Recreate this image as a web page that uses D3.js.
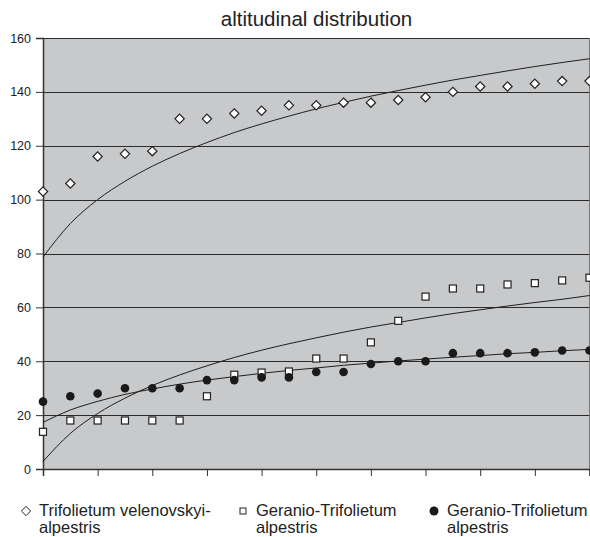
<!DOCTYPE html>
<html>
<head>
<meta charset="utf-8">
<script src="https://cdn.jsdelivr.net/npm/d3@7"></script>
<style>
  body { margin: 0; background: #fff; }
  text { font-family: "Liberation Sans", Arial, sans-serif; fill: #222; }
</style>
</head>
<body>
<div id="chart-area"></div>
<script>
// plot positions (1..21), no labels on the x axis
const positions = [1,2,3,4,5,6,7,8,9,10,11,12,13,14,15,16,17,18,19,20,21];
const xTicks = [1,3,5,7,9,11,13,15,17,19,21];
const yTicks = [0,20,40,60,80,100,120,140,160];

// series
const velenovskyi = [103,106,116,117,118,130,130,132,133,135,135,136,136,137,138,140,142,142,143,144,144];
const geranioSquare = [13.8,18,18,18,18,18,27,35,35.8,36.2,41,41,47,55,64,67,67,68.5,69,70,71];
const geranioDot = [25,27,28,30,30,30,33,33,34,34,36,36,39,40,40,43,43,43,43.3,44,44];

// trend lines
const trendVelenovskyi = [78.7,91.1,100,106.8,112.4,117.1,121.2,124.9,128.1,131,133.7,136.1,138.4,140.5,142.5,144.4,146.1,147.8,149.4,150.9,152.3];
const trendSquare = [2.8,13.2,20.6,26.3,31,34.9,38.3,41.4,44.1,46.5,48.7,50.8,52.7,54.4,56.1,57.7,59.1,60.5,61.8,63,64.4];
const trendDot = [17.3,21.9,25.1,27.7,29.7,31.5,33,34.3,35.5,36.6,37.5,38.5,39.3,40.1,40.8,41.5,42.1,42.8,43.3,43.9,44.4];

const legendNames = [
  ["Trifolietum velenovskyi-", "alpestris"],
  ["Geranio-Trifolietum", "alpestris"],
  ["Geranio-Trifolietum", "alpestris"]
];

const W = 590, H = 537;
const margin = {top: 38, right: 0, bottom: 68, left: 43};
const width = W - margin.left - margin.right,
      height = H - margin.top - margin.bottom;

const svg = d3.select("#chart-area")
  .append("svg")
    .attr("width", W)
    .attr("height", H);

const g = svg.append("g")
    .attr("transform", `translate(${margin.left}, ${margin.top})`);

const x = d3.scaleLinear().domain([1, 21]).range([0, width - 0.5]);
const y = d3.scaleLinear().domain([0, 160]).range([height, 0]);

// plot background
g.append("rect")
  .attr("width", width)
  .attr("height", height)
  .attr("fill", "#c8c9cb");

// gridlines
g.append("g")
  .selectAll("line")
  .data(yTicks.filter(d => d > 0))
  .join("line")
    .attr("x1", 0)
    .attr("x2", width)
    .attr("y1", d => Math.round(y(d)) + 0.5)
    .attr("y2", d => Math.round(y(d)) + 0.5)
    .attr("stroke", "#2b2b2b")
    .attr("stroke-width", 1);

// right border
g.append("line")
  .attr("x1", width - 0.5).attr("x2", width - 0.5)
  .attr("y1", 0).attr("y2", height)
  .attr("stroke", "#777");

// Y axis
const yAxis = g.append("g")
  .call(d3.axisLeft(y).tickValues(yTicks).tickSize(7).tickPadding(5));
yAxis.select(".domain").attr("stroke", "#333").attr("stroke-width", 1.5);
yAxis.selectAll(".tick line").attr("stroke", "#333");
yAxis.selectAll("text")
  .style("font-family", "'Liberation Sans', Arial, sans-serif")
  .style("font-size", "12.5px")
  .attr("fill", "#222");

// X axis
const xAxis = g.append("g")
  .attr("transform", `translate(0, ${height})`)
  .call(d3.axisBottom(x).tickValues(xTicks).tickSize(7).tickFormat(""));
xAxis.select(".domain").attr("stroke", "#333").attr("stroke-width", 1.5);
xAxis.selectAll(".tick line").attr("stroke", "#333");

// trend lines
const line = d3.line()
  .x((d, i) => x(positions[i]))
  .y(d => y(d))
  .curve(d3.curveMonotoneX);

[trendVelenovskyi, trendSquare, trendDot].forEach(t => {
  g.append("path")
    .datum(t)
    .attr("d", line)
    .attr("fill", "none")
    .attr("stroke", "#1e1e1e")
    .attr("stroke-width", 1);
});

// markers
const diamond = d3.symbol().type(d3.symbolDiamond2).size(55);
g.selectAll(".dia")
  .data(velenovskyi)
  .join("path")
    .attr("class", "dia")
    .attr("transform", (d, i) => `translate(${x(positions[i])}, ${y(d)})`)
    .attr("d", diamond)
    .attr("fill", "#fff")
    .attr("stroke", "#222")
    .attr("stroke-width", 1.2);

g.selectAll(".sq")
  .data(geranioSquare)
  .join("rect")
    .attr("class", "sq")
    .attr("x", (d, i) => x(positions[i]) - 3.5)
    .attr("y", d => y(d) - 3.5)
    .attr("width", 7)
    .attr("height", 7)
    .attr("fill", "#fff")
    .attr("stroke", "#222")
    .attr("stroke-width", 1.2);

g.selectAll(".dot")
  .data(geranioDot)
  .join("circle")
    .attr("class", "dot")
    .attr("cx", (d, i) => x(positions[i]))
    .attr("cy", d => y(d))
    .attr("r", 4.3)
    .attr("fill", "#1a1a1a");

// title
svg.append("text")
  .attr("x", margin.left + width / 2)
  .attr("y", 26)
  .attr("text-anchor", "middle")
  .style("font-size", "20.5px")
  .text("altitudinal distribution");

// legend
const legendX = [26, 243, 434];
const leg = svg.append("g");
legendNames.forEach((names, i) => {
  const lx = legendX[i], ly = 511;
  if (i === 0) {
    leg.append("path")
      .attr("transform", `translate(${lx}, ${ly})`)
      .attr("d", d3.symbol().type(d3.symbolDiamond2).size(55))
      .attr("fill", "#fff").attr("stroke", "#222").attr("stroke-width", 1);
  } else if (i === 1) {
    leg.append("rect")
      .attr("x", lx - 3).attr("y", ly - 3)
      .attr("width", 6).attr("height", 6)
      .attr("fill", "#fff").attr("stroke", "#222").attr("stroke-width", 1);
  } else {
    leg.append("circle")
      .attr("cx", lx).attr("cy", ly).attr("r", 4.5)
      .attr("fill", "#1a1a1a");
  }
  names.forEach((name, j) => {
    leg.append("text")
      .attr("x", lx + 13)
      .attr("y", ly + 5 + j * 17)
      .style("font-size", "16.5px")
      .text(name);
  });
});
</script>
</body>
</html>
